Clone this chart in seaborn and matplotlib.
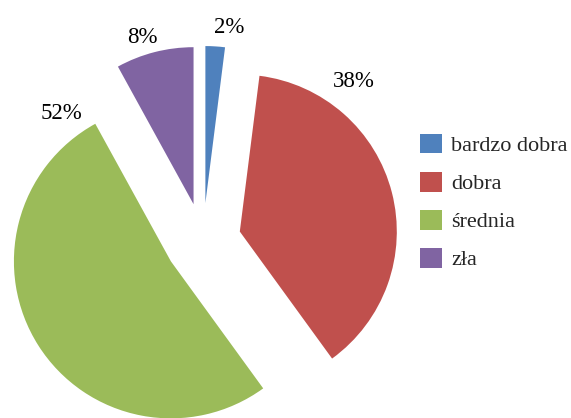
import matplotlib
matplotlib.use("Agg")
import matplotlib.pyplot as plt
import seaborn as sns

# dane
kategorie = ['bardzo dobra', 'dobra', 'średnia', 'zła']
procenty = [2, 38, 52, 8]
kolory = ['#4F81BD', '#C0504D', '#9BBB59', '#8064A2']

# położenie etykiet (piksele obrazka, linia bazowa)
pozycje_etykiet = [(229, 33), (354, 87), (61, 119), (142, 43)]

sns.set_theme(style='white')
plt.rcParams['font.family'] = ['Liberation Serif', 'DejaVu Serif']

W, H = 571, 418
fig = plt.figure(figsize=(W / 100, H / 100), dpi=100)
ax = fig.add_axes([0, 0, 1, 1])

paleta = sns.color_palette(kolory)
wedges, _ = ax.pie(procenty, colors=paleta, startangle=90, counterclock=False,
                   radius=157, center=(203, H - 241), explode=[38] * len(procenty),
                   wedgeprops=dict(linewidth=0))

for p, (px, py) in zip(procenty, pozycje_etykiet):
    ax.text(px, H - py, f'{p}%', ha='center', va='baseline', fontsize=16.5, color='black')

ax.set_xlim(0, W)
ax.set_ylim(0, H)
ax.set_aspect('equal')
ax.axis('off')

leg = fig.legend(wedges, kategorie, loc='center left', bbox_to_anchor=(420 / W, (H - 202) / H),
                 frameon=False, fontsize=16, handlelength=1.0, handleheight=1.0,
                 handletextpad=0.4, labelspacing=0.7, borderpad=0, borderaxespad=0)

fig.savefig('out.png', dpi=100, facecolor='white')
